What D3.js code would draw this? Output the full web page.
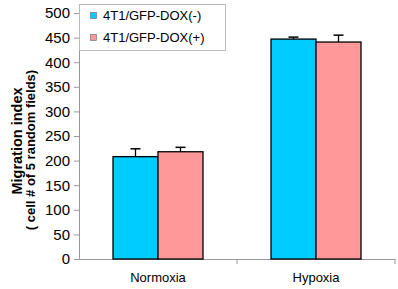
<!DOCTYPE html>
<html>
<head>
<meta charset="utf-8">
<script src="https://cdn.jsdelivr.net/npm/d3@7"></script>
<style>
  body { margin: 0; background: white; }
</style>
</head>
<body>
<div id="chart"></div>
<script>
// Migration index, normoxia vs hypoxia, two groups
const conditions = ["Normoxia", "Hypoxia"];
const groups = ["4T1/GFP-DOX(-)", "4T1/GFP-DOX(+)"];
const means = [
  [208, 218],
  [447, 441],
];
const errs = [
  [16, 9],
  [4, 14],
];
const yTicks = [0, 50, 100, 150, 200, 250, 300, 350, 400, 450, 500];

const width = 398;
const height = 289;
const colours = ["#00CCFF", "#FF9999"];
const font = "'Liberation Sans', Arial, sans-serif";

const margin = { top: 13, right: 3, bottom: 30, left: 79 };

let svg = d3
  .select("#chart")
  .append("svg")
  .attr("width", width)
  .attr("height", height);

const x = d3
  .scaleBand()
  .domain(conditions)
  .range([margin.left, width - margin.right]);

const xInner = d3
  .scaleBand()
  .domain(groups)
  .range([0, 90]);

const y = d3
  .scaleLinear()
  .domain([0, 500])
  .range([height - margin.bottom, margin.top]);

// y axis
let yAxis = svg
  .append("g")
  .attr("transform", `translate(${margin.left},0)`)
  .call(d3.axisLeft(y).tickValues(yTicks).tickSize(5).tickPadding(4));
yAxis.select(".domain").attr("stroke", "#999");
yAxis.selectAll(".tick line").attr("stroke", "#999");
yAxis
  .selectAll("text")
  .style("font-family", font)
  .style("font-size", "15px")
  .attr("fill", "#000");

// x axis
let xAxis = svg
  .append("g")
  .attr("transform", `translate(0,${y(0)})`)
  .call(d3.axisBottom(x).tickSize(0).tickFormat(""));
xAxis.select(".domain").attr("stroke", "#999");
// boundary ticks between categories
svg
  .selectAll(".xtick")
  .data(conditions)
  .enter()
  .append("line")
  .attr("x1", (d) => x(d) + x.bandwidth())
  .attr("x2", (d) => x(d) + x.bandwidth())
  .attr("y1", y(0))
  .attr("y2", y(0) + 5)
  .attr("stroke", "#999");

svg
  .selectAll(".xlabel")
  .data(conditions)
  .enter()
  .append("text")
  .attr("x", (d) => x(d) + x.bandwidth() / 2)
  .attr("y", y(0) + 23)
  .attr("text-anchor", "middle")
  .style("font-family", font)
  .style("font-size", "13px")
  .text((d) => d);

// bars
let condGroups = svg
  .selectAll(".cond")
  .data(conditions)
  .enter()
  .append("g")
  .attr("transform", (d) => `translate(${x(d) + (x.bandwidth() - 90) / 2},0)`);

condGroups.each(function (c, ci) {
  let g = d3.select(this);
  groups.forEach(function (grp, gi) {
    const cx = xInner(grp) + xInner.bandwidth() / 2;
    // error bar (upper only)
    g.append("line")
      .attr("x1", cx)
      .attr("x2", cx)
      .attr("y1", y(means[ci][gi]))
      .attr("y2", y(means[ci][gi] + errs[ci][gi]))
      .attr("stroke", "#000")
      .attr("stroke-width", 1.3);
    g.append("line")
      .attr("x1", cx - 5)
      .attr("x2", cx + 5)
      .attr("y1", y(means[ci][gi] + errs[ci][gi]))
      .attr("y2", y(means[ci][gi] + errs[ci][gi]))
      .attr("stroke", "#000")
      .attr("stroke-width", 1.5);
    g.append("rect")
      .attr("x", xInner(grp))
      .attr("y", y(means[ci][gi]))
      .attr("width", xInner.bandwidth())
      .attr("height", y(0) - y(means[ci][gi]))
      .attr("fill", colours[gi])
      .attr("stroke", "#000")
      .attr("stroke-width", 1.3);
  });
});

// legend
let legend = svg.append("g");
legend
  .append("rect")
  .attr("x", 79.5)
  .attr("y", 4.5)
  .attr("width", 146)
  .attr("height", 46)
  .attr("fill", "white")
  .attr("stroke", "#bbb");
groups.forEach(function (grp, i) {
  legend
    .append("rect")
    .attr("x", 90.5)
    .attr("y", 12.5 + i * 22)
    .attr("width", 6)
    .attr("height", 6)
    .attr("fill", colours[i])
    .attr("stroke", "#666")
    .attr("stroke-width", 0.6);
  legend
    .append("text")
    .attr("x", 103)
    .attr("y", 20 + i * 22)
    .style("font-family", font)
    .style("font-size", "13px")
    .text(grp);
});

// y label, two lines
svg
  .append("text")
  .attr("transform", "translate(22,141) rotate(-90)")
  .attr("text-anchor", "middle")
  .attr("font-family", font)
  .attr("font-weight", "bold")
  .attr("font-size", 14.5)
  .text("Migration index");
svg
  .append("text")
  .attr("transform", "translate(35,150) rotate(-90)")
  .attr("text-anchor", "middle")
  .attr("font-family", font)
  .attr("font-weight", "bold")
  .attr("font-size", 13)
  .text("( cell # of 5 random fields)");
</script>
</body>
</html>
